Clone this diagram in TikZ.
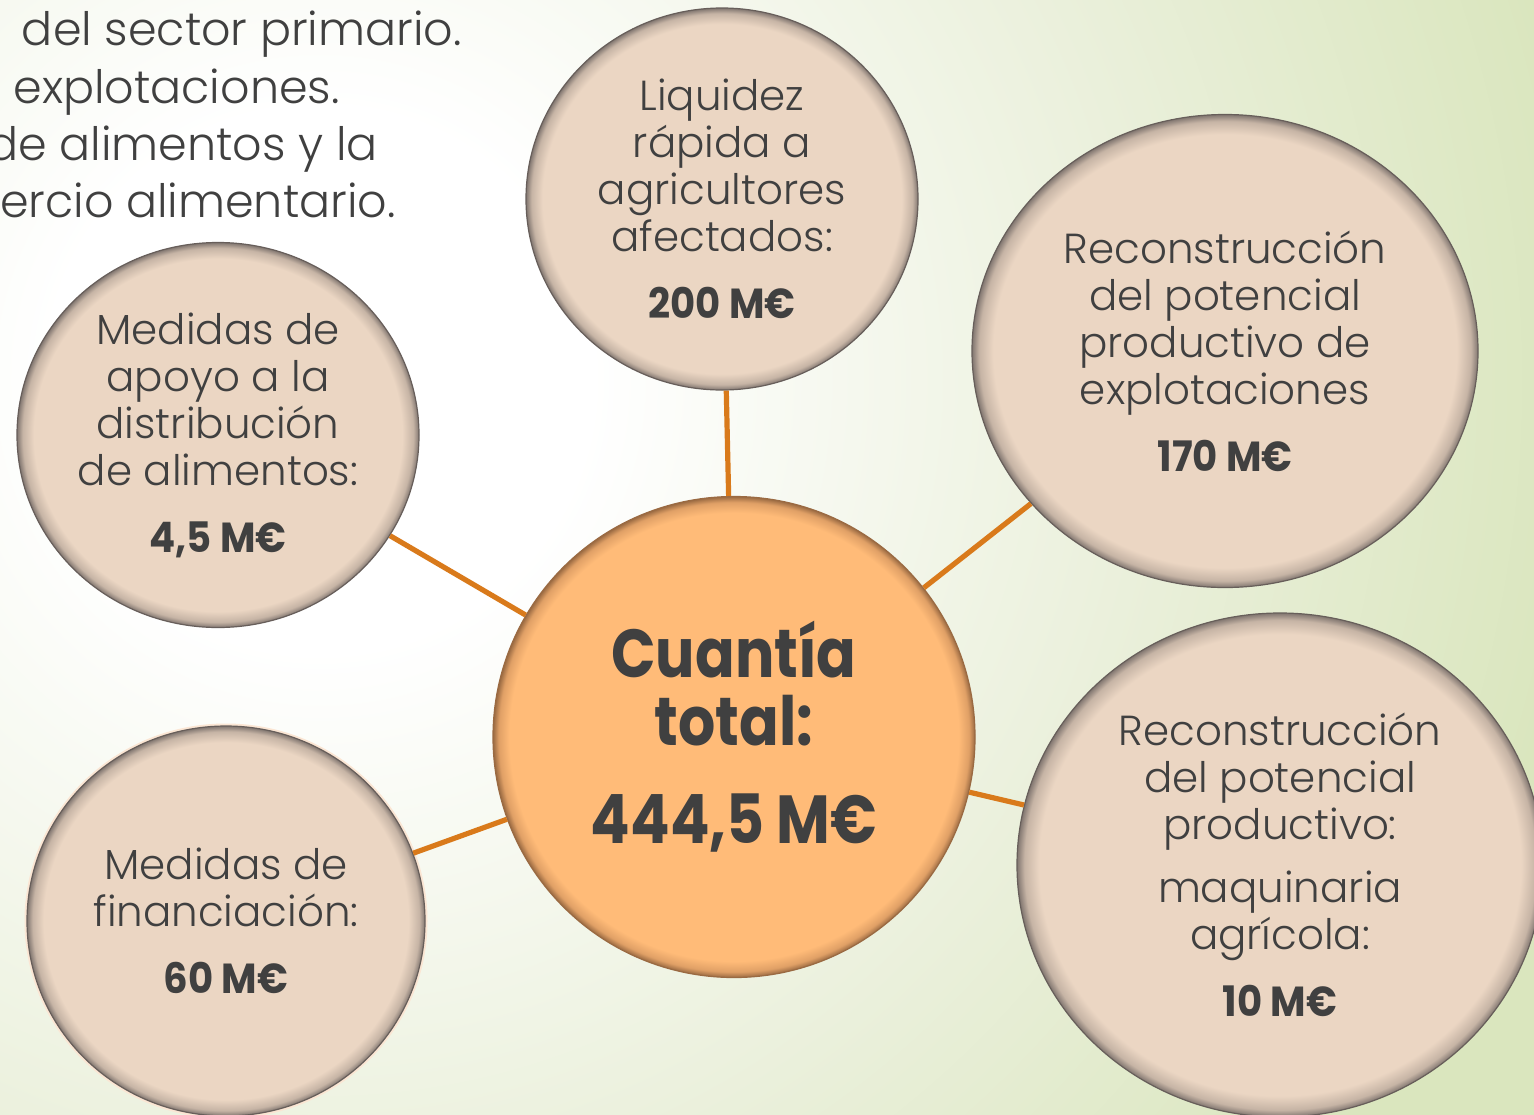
\documentclass[tikz,border=0pt]{standalone}
\usepackage{fontspec}
\IfFontExistsTF{Poppins Light}{%
  \setmainfont{Poppins}[UprightFont={* Light}, BoldFont={* Bold}, BoldFeatures={FakeStretch=0.92}]%
}{%
  \setmainfont{Poppins}[BoldFeatures={FakeStretch=0.92}]%
}
\newfontfamily\hubfont{Poppins}[UprightFont={* Bold}, FakeStretch=0.86]
\usetikzlibrary{shapes.geometric}
\definecolor{beige}{HTML}{EBD6C3}
\definecolor{beigemid}{HTML}{C6B4A5}
\definecolor{beigerim}{HTML}{817670}
\definecolor{orangefill}{HTML}{FFBB78}
\definecolor{orangemid}{HTML}{E0A066}
\definecolor{orangerim}{HTML}{9A6A42}
\definecolor{linkcol}{HTML}{D97A1B}
\definecolor{txt}{HTML}{404040}
\definecolor{bgmid}{HTML}{E9EFD9}
\definecolor{bggreen}{HTML}{DAE6BE}
\definecolor{glowcol}{HTML}{FBE6D4}
\pgfdeclareradialshading{rimbeige}{\pgfpoint{0bp}{0bp}}{color(0bp)=(beige); color(22.9bp)=(beige); color(24.3bp)=(beigemid); color(25bp)=(beigerim); color(50bp)=(beigerim)}
\pgfdeclareradialshading{rimorange}{\pgfpoint{0bp}{0bp}}{color(0bp)=(orangefill); color(23.3bp)=(orangefill); color(24.4bp)=(orangemid); color(25bp)=(orangerim); color(50bp)=(orangerim)}
\pgfdeclareradialshading{bgshade}{\pgfpoint{0bp}{0bp}}{color(0bp)=(white); color(5bp)=(white); color(16bp)=(bgmid); color(23.5bp)=(bggreen); color(50bp)=(bggreen)}
\begin{document}
\begin{tikzpicture}[x=0.5pt,y=-0.5pt,
  bubble/.style={ellipse, inner sep=0pt, draw=beigerim!80!black, line width=0.6pt,
    shading=rimbeige, align=center, text=txt,
    font=\fontsize{21}{23.5}\selectfont},
  hub/.style={ellipse, inner sep=0pt, draw=orangerim, line width=0.6pt,
    shading=rimorange, align=center, text=txt,
    font=\hubfont\fontsize{34}{34}\selectfont},
  link/.style={draw=linkcol, line width=2.6pt},
  toptext/.style={anchor=base east, inner sep=0pt, text=txt,
    font=\fontsize{23}{28}\selectfont},
  glow/.style={preaction={draw=glowcol, line width=2.5pt}}
]
\useasboundingbox (0,0) rectangle (1534,1114);
\clip (0,0) rectangle (1534,1114);
\shade[shading=bgshade] (-1030,-970) rectangle (1670,1730);

% top-left cut text
\node[toptext] (t1) at (462,45) {del sector primario.};
\node[toptext] (t2) at (340,103) {explotaciones.};
\node[toptext] (t3) at (378,160) {de alimentos y la};
\node[toptext] (t4) at (396,217) {ercio alimentario.};

% nodes
\node[hub, minimum width=241pt, minimum height=240.5pt] (hub) at (734,737)
  {Cuantía\\total:\\[15pt]444,5 M€};
\node[bubble, minimum width=196pt, minimum height=191pt] (liq) at (722,199)
  {Liquidez\\rápida a\\agricultores\\afectados:\\[10pt]\textbf{200 M€}};
\node[bubble, minimum width=253pt, minimum height=236.5pt] (recon) at (1225,351)
  {Reconstrucción\\del potencial\\productivo de\\explotaciones\\[10pt]\textbf{170 M€}};
\node[bubble, minimum width=201pt, minimum height=192.5pt] (dist) at (218,435)
  {Medidas de\\apoyo a la\\distribución\\de alimentos:\\[10pt]\textbf{4,5 M€}};
\node[bubble, glow, minimum width=199pt, minimum height=195pt] (fin) at (226,921)
  {Medidas de\\financiación:\\[10pt]\textbf{60 M€}};
\node[bubble, minimum width=263pt, minimum height=252pt] (maq) at (1280,865)
  {Reconstrucción\\del potencial\\productivo:\\[8pt]maquinaria\\agrícola:\\[10pt]\textbf{10 M€}};

% connectors
\draw[link] (hub) -- (liq);
\draw[link] (hub) -- (recon);
\draw[link] (hub) -- (dist);
\draw[link] (hub) -- (fin);
\draw[link] (hub) -- (maq);
\end{tikzpicture}
\end{document}
